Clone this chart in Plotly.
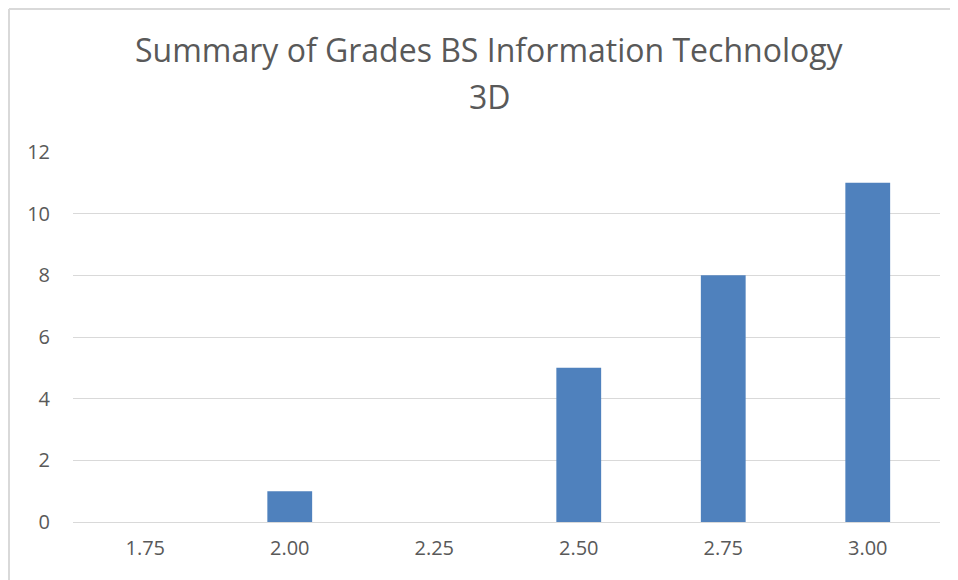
import plotly.graph_objects as go

categories = ["1.75", "2.00", "2.25", "2.50", "2.75", "3.00"]
counts = [0, 1, 0, 5, 8, 11]
y_ticks = [0, 2, 4, 6, 8, 10, 12]
title_line1 = "Summary of Grades BS Information Technology"
title_line2 = "3D"

FONT = "Open Sans"
GREY = "#595959"

# page body has an 8px margin, so the figure starts at (8, 8) in the window
L, R, T, B = 65, 18, 144, 58
W, H = 950, 572
PW, PH = W - L - R, H - T - B

fig = go.Figure(go.Bar(
    x=categories, y=counts,
    marker=dict(color="#4f81bd", line=dict(width=0)),
    width=0.31,
))

fig.update_layout(
    width=W, height=H,
    margin=dict(l=L, r=R, t=T, b=B),
    paper_bgcolor="white", plot_bgcolor="white",
    showlegend=False,
    font=dict(family=FONT, color=GREY, size=20),
    xaxis=dict(type="category", showgrid=False, showline=False, ticks="",
               ticklabelstandoff=12, tickfont=dict(size=20, color=GREY)),
    yaxis=dict(range=[0, 12], tickvals=y_ticks, showgrid=True, gridcolor="#d9d9d9",
               gridwidth=1, zeroline=True, zerolinecolor="#d9d9d9", zerolinewidth=1,
               showline=False, ticks="", ticklabelstandoff=22,
               tickfont=dict(size=20, color=GREY)),
    annotations=[
        dict(text=title_line1, xref="paper", yref="paper", x=(481 - L) / PW, y=1 + (T - 42) / PH,
             xanchor="center", yanchor="middle", showarrow=False,
             font=dict(family=FONT, size=32, color=GREY)),
        dict(text=title_line2, xref="paper", yref="paper", x=(482 - L) / PW, y=1 + (T - 89) / PH,
             xanchor="center", yanchor="middle", showarrow=False,
             font=dict(family=FONT, size=32, color=GREY)),
    ],
    shapes=[
        dict(type="line", xref="paper", yref="paper", x0=(1 - L) / PW, x1=(1 - L) / PW,
             y0=-0.5, y1=1 + (T - 1) / PH, line=dict(color="#d9d9d9", width=2)),
        dict(type="line", xref="paper", yref="paper", x0=(1 - L) / PW, x1=1.2,
             y0=1 + (T - 1) / PH, y1=1 + (T - 1) / PH, line=dict(color="#d9d9d9", width=2)),
    ],
)

fig.write_html("out.html")
